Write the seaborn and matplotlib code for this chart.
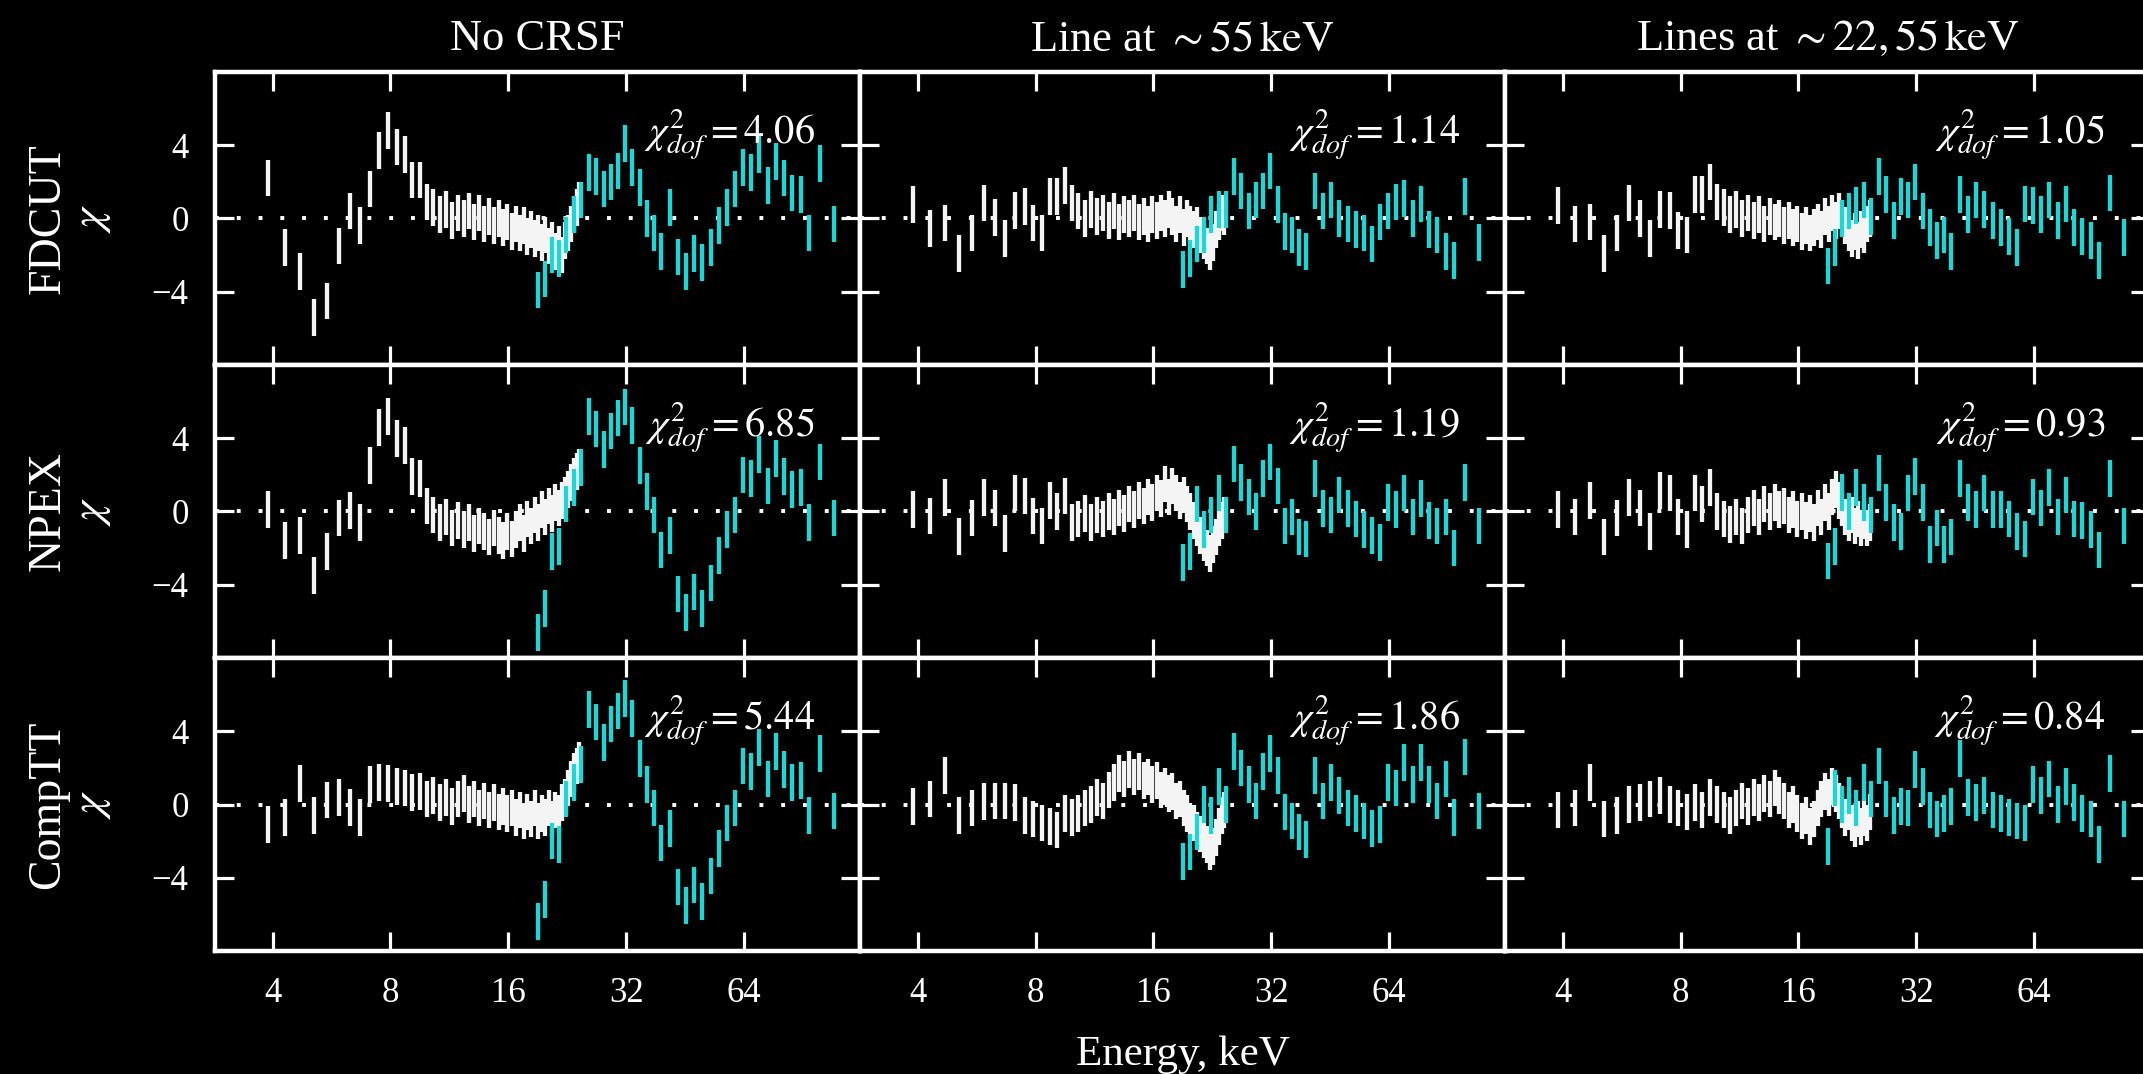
import pandas as pd
import seaborn as sns
import matplotlib
matplotlib.use("Agg")
import matplotlib.pyplot as plt
from matplotlib.ticker import FixedLocator, FixedFormatter, NullLocator

# energy bins (keV) of the two data sets
energy_white = [3.9, 4.3, 4.7, 5.1, 5.5, 5.9, 6.3, 6.7, 7.1, 7.5, 7.9, 8.3, 8.7,
                9.1, 9.5, 9.9, 10.3, 10.7, 11.1, 11.5, 11.9, 12.3, 12.7, 13.1,
                13.5, 13.9, 14.3, 14.7, 15.1, 15.5, 15.9, 16.3, 16.7, 17.1, 17.5,
                17.9, 18.3, 18.7, 19.1, 19.5, 19.9, 20.3, 20.7, 21.1, 21.5, 21.9,
                22.3, 22.7, 23.1, 23.5, 23.9, 24.3]
energy_cyan = [19.0, 19.8, 20.7, 21.6, 22.5, 23.5, 24.5, 25.7, 26.8, 28.0, 29.2,
               30.5, 31.8, 33.2, 34.7, 36.1, 37.7, 39.3, 41.3, 43.3, 45.5, 47.7,
               50.1, 52.6, 55.2, 58.0, 60.8, 63.6, 66.7, 70.0, 73.5, 77.1, 81.0,
               85.0, 89.2, 93.6, 100.0, 108.8]

models = ['FDCUT', 'NPEX', 'CompTT']
setups = ['No CRSF', 'Line 55', 'Lines 22,55']
titles = ['No CRSF', r'Line at $\sim 55\,\mathrm{keV}$', r'Lines at $\sim 22, 55\,\mathrm{keV}$']

chi2_fdcut = [4.06, 1.14, 1.05]
chi2_npex = [6.85, 1.19, 0.93]
chi2_comptt = [5.44, 1.86, 0.84]

# residuals, white data
w_fdcut_0 = [2.2, -1.6, -2.9, -5.4, -4.5, -1.5, 0.4, -0.4, 1.6, 3.7, 4.8, 3.9, 3.5, 2.1, 2.1, 0.9,
             0.6, 0.2, 0.5, -0.1, 0.3, 0.0, 0.4, -0.2, 0.3, -0.3, 0.1, -0.4, 0.0, -0.5, -0.2, -0.7,
             -0.3, -0.8, -0.4, -1.0, -0.6, -1.1, -0.8, -1.3, -0.9, -1.5, -1.2, -1.8, -1.4, -2.0,
             -1.2, -0.8, -0.3, 0.2, 0.6, 1.0]
w_npex_0 = [0.1, -1.6, -1.3, -3.5, -2.2, -0.35, 0.05, -0.6, 2.5, 4.6, 5.2, 4.0, 3.6, 1.9, 1.8, 0.3,
            -0.2, -0.6, -0.3, -0.9, -0.5, -1.0, -0.6, -1.2, -0.8, -1.1, -1.4, -0.9, -1.3, -1.6,
            -1.1, -1.5, -1.0, -0.6, -1.2, -0.4, -0.8, -0.2, -0.6, 0.1, -0.3, 0.3, -0.1, 0.5, 0.2,
            0.6, 0.9, 1.2, 1.6, 1.9, 2.2, 2.4]
w_comptt_0 = [-1.1, -0.7, 1.15, -0.6, 0.25, 0.4, -0.15, -0.7, 1.1, 1.2, 1.15, 1.0, 0.9, 0.65, 0.7, 0.3,
              0.5, 0.1, 0.4, -0.1, 0.3, 0.6, 0.0, 0.3, -0.2, 0.2, -0.3, 0.1, -0.4, -0.1, -0.5, -0.2,
              -0.7, -0.3, -0.9, -0.4, -0.8, -0.2, -0.9, -0.5, -0.7, -0.2, -0.8, -0.3, -0.5, 0.1,
              0.4, 0.9, 1.4, 1.8, 2.1, 2.4]
w_fdcut_1 = [0.75, -0.55, -0.25, -1.9, -0.8, 0.85, 0.05, -1.1, 0.45, 0.65, -0.25, -0.8, 1.2, 1.2, 1.8, 0.85,
             0.4, 0.0, 0.5, 0.1, 0.3, -0.1, 0.4, -0.2, 0.2, 0.0, 0.3, -0.2, 0.1, -0.3, 0.2, -0.1,
             0.3, 0.0, 0.5, 0.1, -0.3, 0.2, -0.5, 0.0, -0.3, -0.6, -0.4, -0.9, -1.2, -1.5, -1.8,
             -1.3, -0.6, -0.2, 0.3, 0.1]
w_npex_1 = [0.1, -0.25, 0.75, -1.35, -0.35, 0.75, 0.2, -1.2, 1.0, 0.85, -0.25, -0.8, 0.6, 0.0, 0.85, -0.6,
            -0.4, -0.1, -0.6, -0.2, -0.4, 0.0, -0.3, 0.2, -0.1, 0.4, 0.1, 0.6, 0.3, 0.8, 0.5, 1.0,
            0.7, 1.5, 0.8, 1.4, 1.0, 0.6, 0.9, 0.4, 0.0, -0.5, -0.9, -1.3, -1.7, -2.0, -2.3, -1.8,
            -1.4, -0.9, -0.5, -0.2]
w_comptt_1 = [-0.1, 0.3, 1.6, -0.6, -0.2, 0.15, 0.2, 0.2, 0.1, -0.6, -0.8, -1.0, -1.2, -1.4, -0.5, -0.7,
              -0.5, -0.2, 0.0, 0.4, 0.2, 0.8, 1.2, 1.7, 1.4, 1.9, 1.5, 1.8, 1.3, 1.5, 1.1, 1.3, 0.8,
              1.0, 0.6, 0.7, 0.2, 0.3, -0.2, -0.5, -0.9, -1.0, -1.4, -1.6, -1.9, -2.2, -2.6, -2.3,
              -1.8, -1.2, -0.6, -0.3]
w_fdcut_2 = [0.7, -0.3, -0.2, -1.9, -0.8, 0.85, 0.0, -1.1, 0.5, 0.45, -0.65, -0.9, 1.3, 1.3, 2.0, 0.9,
             0.6, 0.2, 0.5, 0.0, 0.3, -0.1, 0.2, -0.3, 0.1, -0.2, 0.0, -0.4, -0.1, -0.5, -0.3, -0.7,
             -0.4, -0.8, -0.5, -0.2, -0.6, 0.1, -0.3, 0.3, -0.1, 0.4, 0.0, -0.4, -0.8, -1.1, -0.7,
             -1.2, -0.6, -0.9, -0.3, 0.0]
w_npex_2 = [0.1, -0.3, 0.6, -1.4, -0.35, 0.75, 0.2, -1.1, 1.15, 1.0, -0.3, -1.0, 1.0, 0.4, 1.3, 0.0,
            -0.4, -0.7, -0.3, -0.8, -0.2, 0.2, -0.3, 0.4, 0.0, 0.5, 0.1, 0.3, -0.2, 0.1, -0.4, 0.0,
            -0.5, -0.1, -0.6, 0.2, -0.3, 0.5, 0.0, 0.8, 1.2, 0.6, 0.2, -0.3, -0.6, -0.2, -0.8,
            -0.4, -0.9, -0.5, -0.9, -0.6]
w_comptt_2 = [-0.3, -0.2, 1.2, -0.8, -0.6, 0.0, 0.1, 0.3, 0.5, 0.0, -0.2, -0.4, 0.1, -0.3, 0.4, 0.0,
              -0.3, -0.6, -0.2, 0.2, -0.1, 0.4, 0.1, 0.6, 0.3, 0.9, 0.5, 0.2, -0.3, 0.0, -0.5, -0.9,
              -0.6, -1.2, -0.8, -0.2, 0.3, 0.7, 0.4, 1.0, 0.6, 0.2, -0.3, -0.7, -0.4, -1.0, -1.3,
              -0.8, -1.2, -0.7, -1.0, -0.4]

# residuals, cyan data
c_fdcut_0 = [-3.9, -3.3, -2.0, -2.2, -0.9, 0.2, 1.0, 2.5, 2.3, 1.6, 2.0, 2.6, 4.1, 2.8, 1.7, 0.0,
             -0.8, -1.8, 0.6, -2.1, -2.9, -1.9, -2.4, -1.6, -0.4, 0.6, 1.6, 2.8, 2.5, 3.5, 1.8,
             3.1, 2.2, 1.4, 1.3, -0.8, 3.0, -0.3]
c_npex_0 = [-6.6, -5.3, -2.2, -1.9, 0.4, 1.3, 2.4, 5.2, 4.5, 3.4, 4.4, 5.1, 5.7, 4.7, 2.5, 1.1,
            -0.2, -2.1, -1.3, -4.5, -5.5, -4.4, -5.3, -3.9, -2.4, -1.0, -0.2, 2.0, 1.8, 3.1, 1.4,
            2.9, 1.9, 1.2, 1.3, -0.6, 2.7, -0.35]
c_comptt_0 = [-6.4, -5.2, -2.0, -2.2, 0.3, 1.2, 2.2, 5.2, 4.5, 3.4, 4.4, 5.1, 5.8, 4.7, 2.5, 1.1,
              -0.2, -2.1, -1.3, -4.5, -5.5, -4.4, -5.3, -3.9, -2.4, -1.0, -0.2, 2.1, 1.8, 3.1,
              1.4, 2.9, 1.9, 1.2, 1.3, -0.6, 2.8, -0.35]
c_fdcut_1 = [-2.8, -2.2, -1.4, -0.9, 0.2, 0.5, 0.5, 2.3, 1.5, 0.4, 1.0, 1.5, 2.6, 0.75, -0.7, -0.9,
             -1.6, -1.8, 1.5, 0.4, 1.0, 0.0, -0.3, -0.6, -0.8, -1.4, -0.2, 0.4, 0.9, 1.1, 0.0,
             0.8, -0.6, -0.9, -1.8, -2.3, 1.2, -1.3]
c_npex_1 = [-2.8, -2.2, 0.4, -1.0, -0.2, 1.0, -0.2, 2.6, 1.6, 0.8, 0.0, 1.8, 2.7, 1.4, -0.8, -0.3,
            -1.4, -1.5, 1.8, 0.15, -0.2, 0.9, 0.15, -0.4, -1.0, -1.3, -1.7, 0.5, 0.1, 1.0, -0.3,
            0.7, -0.5, -0.8, -0.3, -2.0, 1.6, -0.8]
c_comptt_1 = [-3.1, -2.6, -1.5, 0.0, -0.6, 1.0, 0.0, 2.9, 2.0, 1.1, 0.2, 1.8, 2.8, 1.6, -0.4, -0.9,
              -1.5, -1.9, 1.6, 0.2, 1.2, 0.5, -0.2, -0.5, -0.9, -1.3, -1.1, 1.2, 0.9, 2.3, 1.1,
              2.3, 1.1, 0.2, 1.4, -0.7, 2.6, -0.35]
c_fdcut_2 = [-2.6, -1.6, 0.0, 0.4, 0.7, 1.0, 0.1, 2.3, 1.3, -0.1, 1.2, 1.0, 2.0, 0.4, -0.5, -1.2,
             -0.9, -1.8, 1.3, 0.2, 1.0, 0.5, -0.1, -0.5, -1.0, -1.6, 0.8, 0.7, 0.2, 1.0, -0.1,
             0.8, -0.5, -1.0, -1.2, -2.3, 1.4, -1.05]
c_npex_2 = [-2.7, -1.9, 1.05, 0.0, 1.3, 0.5, -0.2, 2.1, 0.5, -0.6, -1.1, 1.0, 1.9, 0.5, -1.8, -0.9,
            -1.8, -1.4, 1.8, 0.5, 0.1, 1.0, 0.1, 0.1, -0.4, -1.1, -1.5, 0.8, 0.2, 1.3, -0.3,
            0.9, -0.4, -0.5, -1.0, -2.1, 1.8, -0.8]
c_comptt_2 = [-2.3, 0.9, 0.0, 0.5, -0.2, 1.2, 0.3, 2.1, 0.3, -0.6, -0.1, -0.2, 1.9, 1.0, -0.3, -0.8,
              -0.5, -0.1, 2.5, 0.4, 0.1, 0.5, -0.3, -0.5, -0.7, -0.9, -1.0, 1.1, 0.5, 1.4, 0.0,
              1.0, 0.1, -0.5, -0.8, -2.2, 1.7, -0.8]

WHITE = '#f4f4f4'
CYAN = '#1ad8d8'

series = [
    ('FDCUT', 0, w_fdcut_0, c_fdcut_0), ('FDCUT', 1, w_fdcut_1, c_fdcut_1), ('FDCUT', 2, w_fdcut_2, c_fdcut_2),
    ('NPEX', 0, w_npex_0, c_npex_0), ('NPEX', 1, w_npex_1, c_npex_1), ('NPEX', 2, w_npex_2, c_npex_2),
    ('CompTT', 0, w_comptt_0, c_comptt_0), ('CompTT', 1, w_comptt_1, c_comptt_1), ('CompTT', 2, w_comptt_2, c_comptt_2),
]
frames = []
for model, k, wv, cv in series:
    frames.append(pd.DataFrame({'model': model, 'setup': setups[k], 'inst': 'white',
                                'energy': energy_white, 'chi': wv}))
    frames.append(pd.DataFrame({'model': model, 'setup': setups[k], 'inst': 'cyan',
                                'energy': energy_cyan, 'chi': cv}))
df = pd.concat(frames, ignore_index=True)

sns.set_theme(style='ticks', rc={'figure.facecolor': 'black', 'axes.facecolor': 'black',
                                 'savefig.facecolor': 'black', 'text.color': 'white'})
plt.rcParams['font.family'] = ['Liberation Serif', 'DejaVu Serif']
plt.rcParams['mathtext.fontset'] = 'stix'


def draw_residuals(data, color=None, **kws):
    ax = plt.gca()
    # white first, cyan over it where the two overlap
    for inst, col in [('white', WHITE), ('cyan', CYAN)]:
        d = data[data['inst'] == inst]
        ax.errorbar(d['energy'], d['chi'], yerr=1.0, fmt='none', ecolor=col,
                    elinewidth=3.1, capsize=0, zorder=3)


g = sns.FacetGrid(df, row='model', col='setup', row_order=models, col_order=setups,
                  sharex=True, sharey=True, despine=False, height=2.9, aspect=2.2)
g.map_dataframe(draw_residuals)
g.set_titles(template='')
g.set_axis_labels('', '')

fig = g.figure
fig.set_size_inches(21.43, 10.74)
left, bottom, top = 0.1003, 0.1145, 0.933
pw = 0.3010
ph = (top - bottom) / 3
fig.subplots_adjust(left=left, right=left + 3 * pw, bottom=bottom, top=top, wspace=0, hspace=0)

chi2_rows = [chi2_fdcut, chi2_npex, chi2_comptt]
for i in range(3):
    for j in range(3):
        ax = g.axes[i, j]
        ax.set_xscale('log', base=2)
        ax.set_xlim(2.85, 126.5)
        ax.set_ylim(-8, 8)
        ax.xaxis.set_major_locator(FixedLocator([4, 8, 16, 32, 64]))
        ax.xaxis.set_major_formatter(FixedFormatter(['4', '8', '16', '32', '64']))
        ax.xaxis.set_minor_locator(NullLocator())
        ax.yaxis.set_major_locator(FixedLocator([-4, 0, 4]))
        ax.yaxis.set_minor_locator(NullLocator())
        ax.axhline(0, color='white', lw=2.8, ls=(0, (1.0, 4.6)), zorder=2)
        for sp in ax.spines.values():
            sp.set_color('white')
            sp.set_linewidth(3.2)
            sp.set_visible(True)
        ax.tick_params(axis='both', which='major', direction='in', length=14, width=2.3,
                       color='white', labelcolor='white', labelsize=25,
                       top=True, right=True, bottom=True, left=True,
                       labelbottom=(i == 2), labelleft=(j == 0), labeltop=False, labelright=False)
        ax.tick_params(axis='x', pad=19)
        ax.tick_params(axis='y', pad=19)
        ax.grid(False)
        ax.text(0.93, 0.755, r'$\chi^2_{dof} = %.2f$' % chi2_rows[i][j], transform=ax.transAxes,
                ha='right', va='baseline', fontsize=29, color='white', zorder=5)

for j in range(3):
    fig.text(left + (j + 0.5) * pw, 0.9534, titles[j], ha='center', va='baseline',
             fontsize=32, color='white')

for i, m in enumerate(models):
    yc = top - (i + 0.5) * ph
    fig.text(0.0225, yc, m, rotation=90, ha='center', va='center', fontsize=33, color='white')
    fig.text(0.0428, yc, r'$\chi$', rotation=90, ha='center', va='center', fontsize=33, color='white')

fig.text(left + 1.5 * pw, 0.008, 'Energy, keV', ha='center', va='baseline', fontsize=31, color='white')

fig.savefig('out.png', dpi=100, facecolor='black')
